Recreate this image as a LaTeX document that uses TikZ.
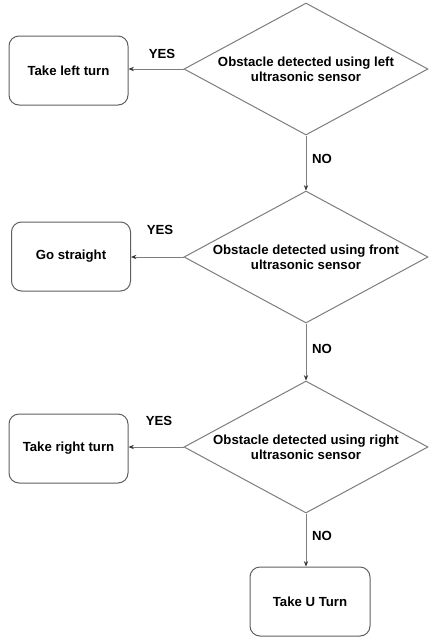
\documentclass[tikz,border=0pt]{standalone}
\usepackage{fontspec}
\setmainfont{Liberation Sans}
\usetikzlibrary{shapes.geometric,arrows.meta}
\definecolor{edgegray}{RGB}{125,125,125}
\definecolor{boxgray}{RGB}{95,95,95}
\begin{document}
\begin{tikzpicture}[x=0.75pt,y=-0.75pt,
  every node/.style={font=\fontsize{9.9pt}{11.5pt}\selectfont\bfseries},
  decision/.style={diamond,draw=edgegray,line width=0.75pt,inner sep=0pt,
    shape aspect=1.85,minimum width=244*0.75pt,minimum height=132*0.75pt,align=center},
  actbox/.style={rectangle,rounded corners=7.5pt,draw=boxgray,line width=0.75pt,
    minimum width=119*0.75pt,minimum height=69*0.75pt,align=center},
  arr/.style={draw=edgegray,line width=0.75pt,-{Stealth[length=4pt,width=3.2pt,color=black!80]}},
  lbl/.style={inner sep=0pt}]
\useasboundingbox (0,0) rectangle (435,640);
\node[decision] (d1) at (306,69) {Obstacle detected using left\\ultrasonic sensor};
\node[decision] (d2) at (306,257) {Obstacle detected using front\\ultrasonic sensor};
\node[decision] (d3) at (306,447) {Obstacle detected using right\\ultrasonic sensor};
\node[actbox] (b1) at (68.5,70.5) {Take left turn};
\node[actbox] (b2) at (71,256.5) {Go straight};
\node[actbox] (b3) at (68.5,448.5) {Take right turn};
\node[actbox,minimum width=120*0.75pt] (b4) at (310,601.5) {Take U Turn};
\draw[arr] (d1.west) -- (b1.east |- d1.west);
\draw[arr] (d2.west) -- (b2.east |- d2.west);
\draw[arr] (d3.west) -- (b3.east |- d3.west);
\draw[arr] (d1.south) -- (d2.north);
\draw[arr] (d2.south) -- (d3.north);
\draw[arr] (d3.south) -- (d3.south |- b4.north);
\node[lbl] (y1) at (162,54) {YES};
\node[lbl] (y2) at (160,230) {YES};
\node[lbl] (y3) at (159,421) {YES};
\node[lbl] (n1) at (322,159) {NO};
\node[lbl] (n2) at (322,349) {NO};
\node[lbl] (n3) at (322,536) {NO};
\end{tikzpicture}
\end{document}
